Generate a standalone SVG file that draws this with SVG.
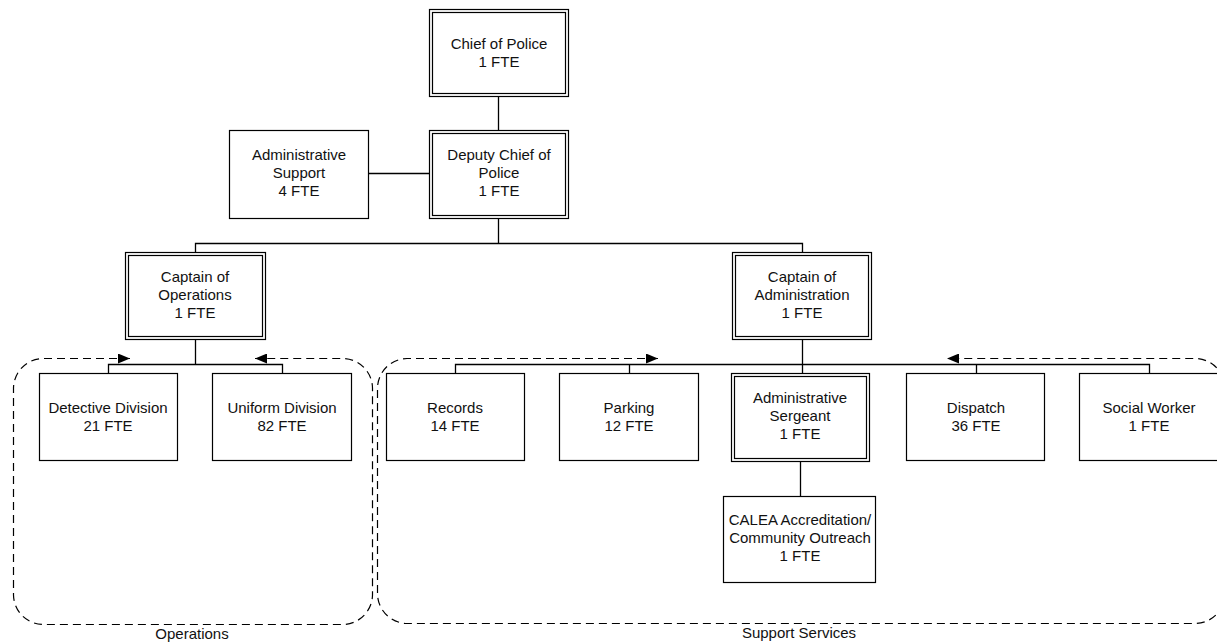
<svg xmlns="http://www.w3.org/2000/svg" width="1217" height="642" viewBox="0 0 1217 642">
<style>
.box{fill:#fff;stroke:#000;stroke-width:1.2}
.in{fill:none;stroke:#000;stroke-width:1.2}
.ln{fill:none;stroke:#000;stroke-width:1.3}
.grp{fill:none;stroke:#000;stroke-width:1.2;stroke-dasharray:8 5}
text{font-family:"Liberation Sans",Arial,sans-serif;font-size:15px;fill:#111;text-anchor:middle}
</style>
<defs>
<marker id="ah" viewBox="0 0 12 10" refX="12" refY="5" markerWidth="12" markerHeight="10" markerUnits="userSpaceOnUse" orient="auto-start-reverse">
<path d="M0,0 L12,5 L0,10 Z" fill="#000"/>
</marker>
</defs>
<rect width="1217" height="642" fill="#fff"/>
<g id="groups">
<path class="grp" d="M130,358.5 H43 A30,30 0 0 0 13.5,388 V595 A30,30 0 0 0 43,624.5 H342 A30,30 0 0 0 372.5,595 V388 A30,30 0 0 0 342,358.5 H255" marker-start="url(#ah)" marker-end="url(#ah)"/>
<text x="192" y="639">Operations</text>
<path class="grp" d="M658,358.5 H407 A30,30 0 0 0 377.5,388 V594 A30,30 0 0 0 407,623.5 H1195 A30,30 0 0 0 1225,594 V388 A30,30 0 0 0 1195,358.5 H947" marker-start="url(#ah)" marker-end="url(#ah)"/>
<text x="799" y="638">Support Services</text>
</g>
<g id="connectors">
<path class="ln" d="M498.5,96 V130"/>
<path class="ln" d="M369,173.5 H429"/>
<path class="ln" d="M498.5,218 V243.5 M195.5,252 V243.5 H802.5 V252"/>
<path class="ln" d="M195.5,339 V364.5 M108.5,373 V364.5 H282.5 V373"/>
<path class="ln" d="M802.5,339 V373 M455.5,373 V364.5 H1149.5 V373 M629.5,364.5 V373 M976.5,364.5 V373"/>
<path class="ln" d="M800.5,461 V496"/>
</g>
<g id="chief">
<rect class="box" x="429.5" y="9.5" width="139" height="87"/>
<rect class="in" x="432.5" y="12.5" width="133" height="81"/>
<text x="499" y="49">Chief of Police</text>
<text x="499" y="67">1 FTE</text>
</g>
<g id="deputy">
<rect class="box" x="429.5" y="130.5" width="139" height="88"/>
<rect class="in" x="432.5" y="133.5" width="133" height="82"/>
<text x="499" y="160">Deputy Chief of</text>
<text x="499" y="178">Police</text>
<text x="499" y="196">1 FTE</text>
</g>
<g id="adminSupport">
<rect class="box" x="229.5" y="130.5" width="139" height="88"/>
<text x="299" y="160">Administrative</text>
<text x="299" y="178">Support</text>
<text x="299" y="196">4 FTE</text>
</g>
<g id="captainOps">
<rect class="box" x="125.5" y="252.5" width="140" height="87"/>
<rect class="in" x="128.5" y="255.5" width="134" height="81"/>
<text x="195" y="282">Captain of</text>
<text x="195" y="300">Operations</text>
<text x="195" y="318">1 FTE</text>
</g>
<g id="captainAdmin">
<rect class="box" x="732.5" y="252.5" width="139" height="87"/>
<rect class="in" x="735.5" y="255.5" width="133" height="81"/>
<text x="802" y="282">Captain of</text>
<text x="802" y="300">Administration</text>
<text x="802" y="318">1 FTE</text>
</g>
<g id="detective">
<rect class="box" x="39.5" y="373.5" width="138" height="87"/>
<text x="108" y="413">Detective Division</text>
<text x="108" y="431">21 FTE</text>
</g>
<g id="uniform">
<rect class="box" x="212.5" y="373.5" width="139" height="87"/>
<text x="282" y="413">Uniform Division</text>
<text x="282" y="431">82 FTE</text>
</g>
<g id="records">
<rect class="box" x="386.5" y="373.5" width="138" height="87"/>
<text x="455" y="413">Records</text>
<text x="455" y="431">14 FTE</text>
</g>
<g id="parking">
<rect class="box" x="559.5" y="373.5" width="139" height="87"/>
<text x="629" y="413">Parking</text>
<text x="629" y="431">12 FTE</text>
</g>
<g id="adminSergeant">
<rect class="box" x="731.5" y="373.5" width="138" height="88"/>
<rect class="in" x="734.5" y="376.5" width="132" height="82"/>
<text x="800" y="403">Administrative</text>
<text x="800" y="421">Sergeant</text>
<text x="800" y="439">1 FTE</text>
</g>
<g id="dispatch">
<rect class="box" x="906.5" y="373.5" width="138" height="87"/>
<text x="976" y="413">Dispatch</text>
<text x="976" y="431">36 FTE</text>
</g>
<g id="socialWorker">
<rect class="box" x="1079.5" y="373.5" width="139" height="87"/>
<text x="1149" y="413">Social Worker</text>
<text x="1149" y="431">1 FTE</text>
</g>
<g id="calea">
<rect class="box" x="723.5" y="496.5" width="152" height="86"/>
<text x="800" y="525">CALEA Accreditation/</text>
<text x="800" y="543">Community Outreach</text>
<text x="800" y="561">1 FTE</text>
</g>
</svg>
